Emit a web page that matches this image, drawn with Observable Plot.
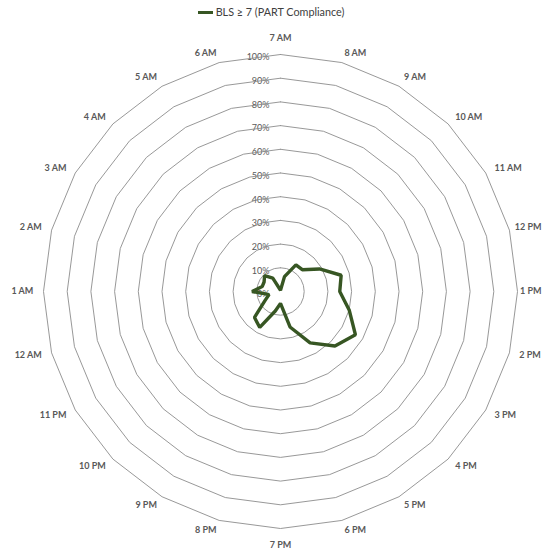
<!DOCTYPE html>
<html>
<head>
<meta charset="utf-8">
<script src="https://cdn.jsdelivr.net/npm/d3@7"></script>
<script src="https://cdn.jsdelivr.net/npm/@observablehq/plot@0.6"></script>
<style>
  html, body { margin: 0; padding: 0; background: #fff; }
  #wrap { position: relative; width: 542px; height: 551px; overflow: hidden; }
  #legend { position: absolute; top: 5px; left: 0; width: 542px; text-align: center;
    font-family: Lato, "Open Sans", sans-serif; font-size: 10.8px; color: #404040; }
  #legend .sw { display: inline-block; width: 15px; height: 3px; background: #375623; vertical-align: middle; margin-right: 3px; position: relative; top: -1px; }
</style>
</head>
<body>
<div id="wrap">
  <div id="legend"><span class="sw"></span><span id="legend-text"></span></div>
  <div id="chart"></div>
</div>
<script>
const hours = ["7 AM","8 AM","9 AM","10 AM","11 AM","12 PM","1 PM","2 PM","3 PM","4 PM","5 PM","6 PM",
               "7 PM","8 PM","9 PM","10 PM","11 PM","12 AM","1 AM","2 AM","3 AM","4 AM","5 AM","6 AM"];
const values = [0.5, 6.5, 13, 13, 19, 26.5, 25, 30, 36.5, 32.5, 25, 15.5,
                5, 8.5, 17.5, 15.5, 7.5, 5, 12, 8, 8, 9.5, 6.5, 1];
const seriesName = "BLS ≥ 7 (PART Compliance)";
const ringLevels = [10, 20, 30, 40, 50, 60, 70, 80, 90, 100];
const tickLabels = ["0%","10%","20%","30%","40%","50%","60%","70%","80%","90%","100%"];

document.getElementById("legend-text").textContent = seriesName;

const n = hours.length;
const ang = i => (i / n) * 2 * Math.PI;
const W = 542, cx = 280, cy = 291, R = 237;
const labelFont = "bold 9px Lato";
const ctx = document.createElement("canvas").getContext("2d");
ctx.font = labelFont;

const dataPts = values.map((v, i) => ({hour: hours[i], x: Math.sin(ang(i)) * v / 100, y: Math.cos(ang(i)) * v / 100}));
const rings = [];
for (const lv of ringLevels) {
  for (let i = 0; i <= n; i++) {
    rings.push({level: lv, x: Math.sin(ang(i % n)) * lv / 100, y: Math.cos(ang(i % n)) * lv / 100});
  }
}
const labelR = 1.043;
const hourLabels = hours.map((h, i) => {
  const s = Math.sin(ang(i)), c = Math.cos(ang(i));
  const anchor = s > 0.1 ? "start" : s < -0.1 ? "end" : "middle";
  // keep label inside the picture at the right edge
  const px = cx + s * labelR * R;
  const w = ctx.measureText(h).width;
  const over = anchor === "start" ? Math.max(0, px + w - (W - 1)) : 0;
  return {text: h, x: s * labelR, y: c * labelR, anchor, dy: anchor === "middle" ? -c * 6 : 0, dx: -over};
});
const ticks = tickLabels.map((t, i) => ({text: t, y: i / 10}));

const chart = Plot.plot({
  width: W,
  height: 551,
  margin: 0,
  x: {domain: [-1, 1], range: [cx - R, cx + R], axis: null},
  y: {domain: [-1, 1], range: [cy + R, cy - R], axis: null},
  style: {fontFamily: "Lato, 'Open Sans', sans-serif", background: "transparent"},
  marks: [
    Plot.text(ticks, {x: 0, y: "y", text: "text", textAnchor: "end", dx: -11, dy: 3,
      fill: "#595959", fontSize: 9}),
    Plot.line(rings, {x: "x", y: "y", z: "level", stroke: "#8c8c8c", strokeWidth: 0.9}),
    Plot.line(dataPts, {x: "x", y: "y", curve: "linear-closed", stroke: "#375623", strokeWidth: 3.4, strokeLinejoin: "miter"}),
    ...hourLabels.map(d =>
      Plot.text([d], {x: "x", y: "y", text: "text", textAnchor: d.anchor,
        dx: d.dx, dy: d.dy, fill: "#595959", fontSize: 9, fontWeight: "bold"}))
  ]
});
document.getElementById("chart").appendChild(chart);
</script>
</body>
</html>
